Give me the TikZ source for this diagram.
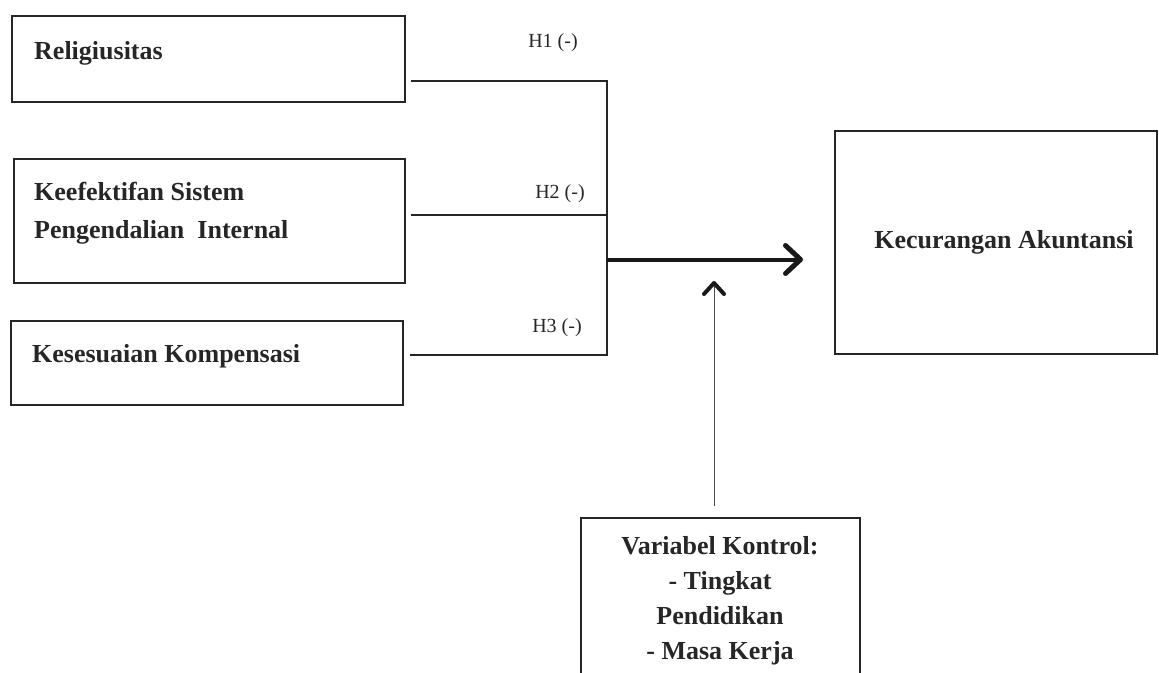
\documentclass[tikz,border=0pt]{standalone}
\usepackage{fontspec}
\setmainfont{Liberation Serif}
\usetikzlibrary{arrows.meta}
\tikzset{
  box/.style={draw=black!85, line width=1.8pt, inner sep=0pt},
  lbl/.style={inner sep=0pt, font=\fontsize{26}{35}\selectfont\bfseries, text=black!85},
  hyp/.style={inner sep=0pt, font=\fontsize{20}{24}\selectfont, text=black!85},
  conn/.style={draw=black!85, line width=1.5pt},
  mainarrow/.style={draw=black!90, line width=4pt, -{Straight Barb[length=15pt,width=28pt,line width=5pt,round]}},
  uparrow/.style={draw=black!70, line width=1pt, -{Straight Barb[black!90,length=11pt,width=20pt,line width=4pt,round]}}
}
\begin{document}
\begin{tikzpicture}[x=1pt,y=-1pt]
\useasboundingbox (0,0) rectangle (1159,672);
\clip (0,0) rectangle (1159,672);
% boxes
\node[box, minimum width=393pt, minimum height=86pt] (b1) at (208.5,59) {};
\node[box, minimum width=391pt, minimum height=124pt] (b2) at (209.5,221) {};
\node[box, minimum width=392pt, minimum height=84pt] (b3) at (207,363) {};
\node[box, minimum width=322pt, minimum height=223pt] (b4) at (996,242.5) {};
\node[box, minimum width=279pt, minimum height=180pt] (b5) at (720.5,608) {};
% texts
\node[lbl, anchor=base west] (t1) at (34,59) {Religiusitas};
\node[lbl, anchor=base west] (t2a) at (34,200) {Keefektifan Sistem};
\node[lbl, anchor=base west] (t2b) at (34,238) {Pengendalian\ \ Internal};
\node[lbl, anchor=base west] (t3) at (32,362) {Kesesuaian Kompensasi};
\node[lbl, anchor=base] (t4) at (1004,248) {Kecurangan Akuntansi};
\node[lbl, anchor=north, align=center] (t5) at (720,536) {Variabel Kontrol:\\- Tingkat\\Pendidikan\\- Masa Kerja};
% hypothesis labels
\node[hyp, anchor=base] (h1) at (553,47) {H1 (-)};
\node[hyp, anchor=base] (h2) at (560,198) {H2 (-)};
\node[hyp, anchor=base] (h3) at (557,332) {H3 (-)};
% connectors
\coordinate (s1) at (411,81);
\coordinate (s2) at (411,215);
\coordinate (s3) at (410,355);
\coordinate (j1) at (607,81);
\coordinate (j2) at (607,215);
\coordinate (j3) at (607,355);
\coordinate (jm) at (607,259.5);
\coordinate (tip) at (803,259.5);
\coordinate (uptip) at (714,281);
\coordinate (upstart) at (714,506);
\draw[conn] (s1) -- (j1) -- (j3) -- (s3);
\draw[conn] (s2) -- (j2);
\draw[mainarrow] (jm) -- (tip);
\draw[uparrow] (upstart) -- (uptip);
\end{tikzpicture}
\end{document}
